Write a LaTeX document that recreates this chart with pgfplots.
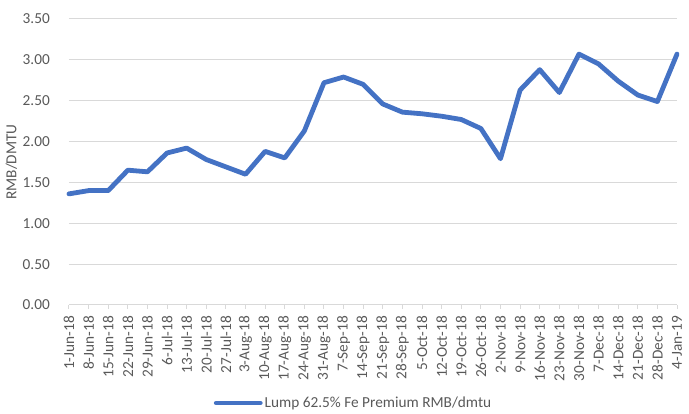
\documentclass[border=0pt]{standalone}
\usepackage{fontspec}
\setmainfont{Carlito}
\usepackage{pgfplots}
\pgfplotsset{compat=1.18}
\definecolor{txt}{RGB}{89,89,89}
\definecolor{grid}{RGB}{217,217,217}
\definecolor{series}{RGB}{68,114,196}
\newcommand{\fs}{\fontsize{15.3}{18}\selectfont}
\begin{document}
\begin{tikzpicture}
\path[use as bounding box] (-69pt,-109pt) rectangle (620pt,305pt);
\begin{axis}[
  at={(0,0)}, anchor=south west,
  scale only axis, width=608pt, height=286pt,
  xmin=0, xmax=31, ymin=0, ymax=3.5,
  clip=false,
  axis x line*=bottom, axis y line*=left,
  x axis line style={draw=grid, line width=1pt},
  y axis line style={draw=none},
  ymajorgrids, grid style={draw=grid, line width=1pt},
  ytick={0,0.5,...,3.5},
  major y tick style={draw=none},
  xtick={0,...,31},
  major x tick style={draw=grid, line width=1pt},
  tick align=outside, major tick length=4pt,
  xticklabels={1-Jun-18,8-Jun-18,15-Jun-18,22-Jun-18,29-Jun-18,6-Jul-18,13-Jul-18,20-Jul-18,27-Jul-18,3-Aug-18,10-Aug-18,17-Aug-18,24-Aug-18,31-Aug-18,7-Sep-18,14-Sep-18,21-Sep-18,28-Sep-18,5-Oct-18,12-Oct-18,19-Oct-18,26-Oct-18,2-Nov-18,9-Nov-18,16-Nov-18,23-Nov-18,30-Nov-18,7-Dec-18,14-Dec-18,21-Dec-18,28-Dec-18,4-Jan-19},
  xticklabel style={rotate=90, anchor=east, inner sep=0pt, font=\fs, text=txt},
  xticklabel shift=7pt,
  yticklabel style={anchor=east, inner sep=0pt, font=\fs, text=txt, xshift=-15pt},
  /pgf/number format/assume math mode=true,
  yticklabel={\pgfmathprintnumber[fixed,fixed zerofill,precision=2]{\tick}},
  ylabel={RMB/DMTU},
  ylabel style={at={(axis description cs:-0.0946,0.5)}, anchor=center, font=\fs, text=txt},
  legend style={at={(0.468,-0.343)}, anchor=center, draw=none, fill=none, font=\fs, text=txt, inner sep=0pt},
  legend cell align=left,
  legend image code/.code={\draw[#1, line cap=round] (0pt,0pt) -- (44pt,0pt);},
]
\addplot[color=series, line width=4.8pt, line join=round, line cap=round, mark=none] coordinates {
(0,1.36) (1,1.40) (2,1.40) (3,1.65) (4,1.63) (5,1.86) (6,1.92) (7,1.78)
(8,1.69) (9,1.60) (10,1.88) (11,1.80) (12,2.13) (13,2.72) (14,2.79) (15,2.70)
(16,2.46) (17,2.36) (18,2.34) (19,2.31) (20,2.27) (21,2.16) (22,1.79) (23,2.63)
(24,2.88) (25,2.60) (26,3.07) (27,2.95) (28,2.74) (29,2.57) (30,2.49) (31,3.07)
};
\addlegendentry{Lump 62.5\% Fe Premium RMB/dmtu}
\end{axis}
\end{tikzpicture}
\end{document}
